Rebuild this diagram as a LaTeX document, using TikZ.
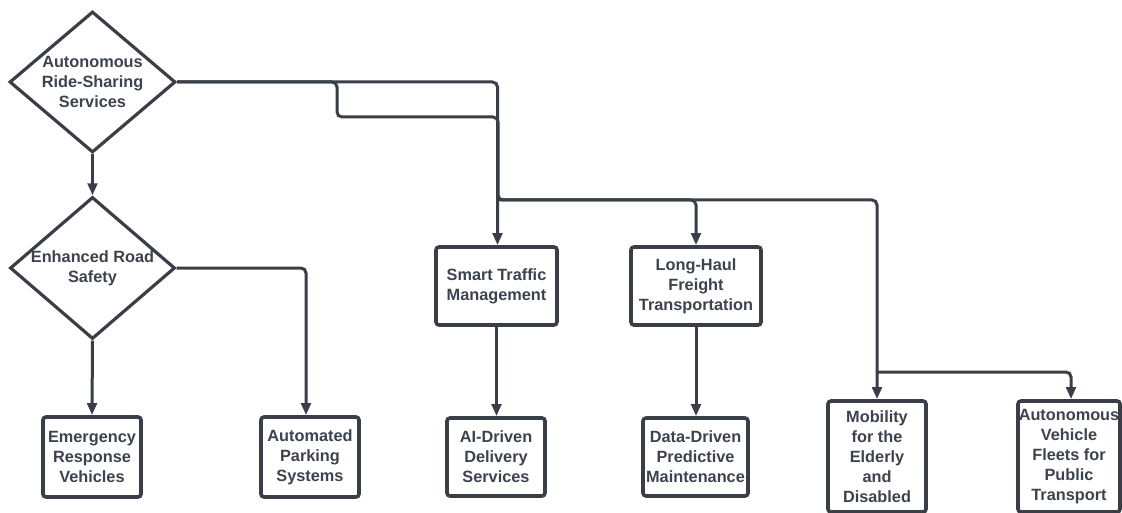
\documentclass[tikz,border=0pt]{standalone}
\usepackage{fontspec}
\setmainfont{Liberation Sans}
\usetikzlibrary{shapes.geometric,arrows.meta}
\definecolor{ln}{HTML}{3A3F47}
\definecolor{tx}{HTML}{3D434D}
\begin{document}
\begin{tikzpicture}[x=1pt,y=-1pt,
  txt/.style={font=\fontsize{16.3}{20}\selectfont\bfseries, text=tx, align=center},
  box/.style={draw=ln, line width=3.6pt, rounded corners=3pt, fill=white, inner sep=0pt, txt},
  dia/.style={draw=ln, line width=3.2pt, diamond, inner sep=0pt, fill=white},
  conn/.style={draw=ln, line width=3pt, rounded corners=5pt},
  arr/.style={conn, -{Triangle[length=12pt,width=9.5pt]}}
]
\useasboundingbox (0,0) rectangle (1122,513);
\fill[white] (0,0) rectangle (1122,513);

% decision nodes
\node[dia, minimum width=166pt, minimum height=141pt,
  label={[txt]center:{Autonomous\\Ride-Sharing\\Services}}] (d1) at (92.5,82) {};
\node[dia, minimum width=165pt, minimum height=142pt,
  label={[txt]center:{Enhanced Road\\Safety}}] (d2) at (92.5,268) {};

% boxes
\node[box, minimum width=98pt, minimum height=80pt] (emerg) at (92,457) {Emergency\\Response\\Vehicles};
\node[box, minimum width=98pt, minimum height=80pt] (park) at (310,457) {Automated\\Parking\\Systems};
\node[box, minimum width=121pt, minimum height=78pt] (smart) at (496.5,286) {Smart Traffic\\Management};
\node[box, minimum width=130pt, minimum height=78pt] (long) at (696,286) {Long-Haul\\Freight\\Transportation};
\node[box, minimum width=98pt, minimum height=78pt] (ai) at (496,457) {AI-Driven\\Delivery\\Services};
\node[box, minimum width=105pt, minimum height=78pt] (data) at (695.5,457) {Data-Driven\\Predictive\\Maintenance};
\node[box, minimum width=98pt, minimum height=111pt] (mob) at (877,456.5) {Mobility\\for the\\Elderly\\and\\Disabled};
\node[box, minimum width=102pt, minimum height=111pt] (fleet) at (1069,456.5) {Autonomous\\Vehicle\\Fleets for\\Public\\Transport};

% junction coordinates
\coordinate (k1) at (337,117);
\coordinate (k2) at (498,200);
\coordinate (k3) at (877,372);

% connectors
\draw[arr] (d1.south) -- (d2.north);
\draw[arr] (d2.south) -- (emerg.north);
\draw[arr] (d2.east) -| ([xshift=-4pt]park.north);
\draw[arr] (d1.east) -| ([xshift=1pt]smart.north);
\draw[arr] (d1.east) -| (k1) -| (k2) -| (mob.north);
\draw[arr] (k2) -| (long.north);
\draw[arr] (k3) -| ([xshift=2pt]fleet.north);
\draw[arr] (smart.south) -- (ai.north -| smart.south);
\draw[arr] (long.south) -- (data.north -| long.south);
\end{tikzpicture}
\end{document}
